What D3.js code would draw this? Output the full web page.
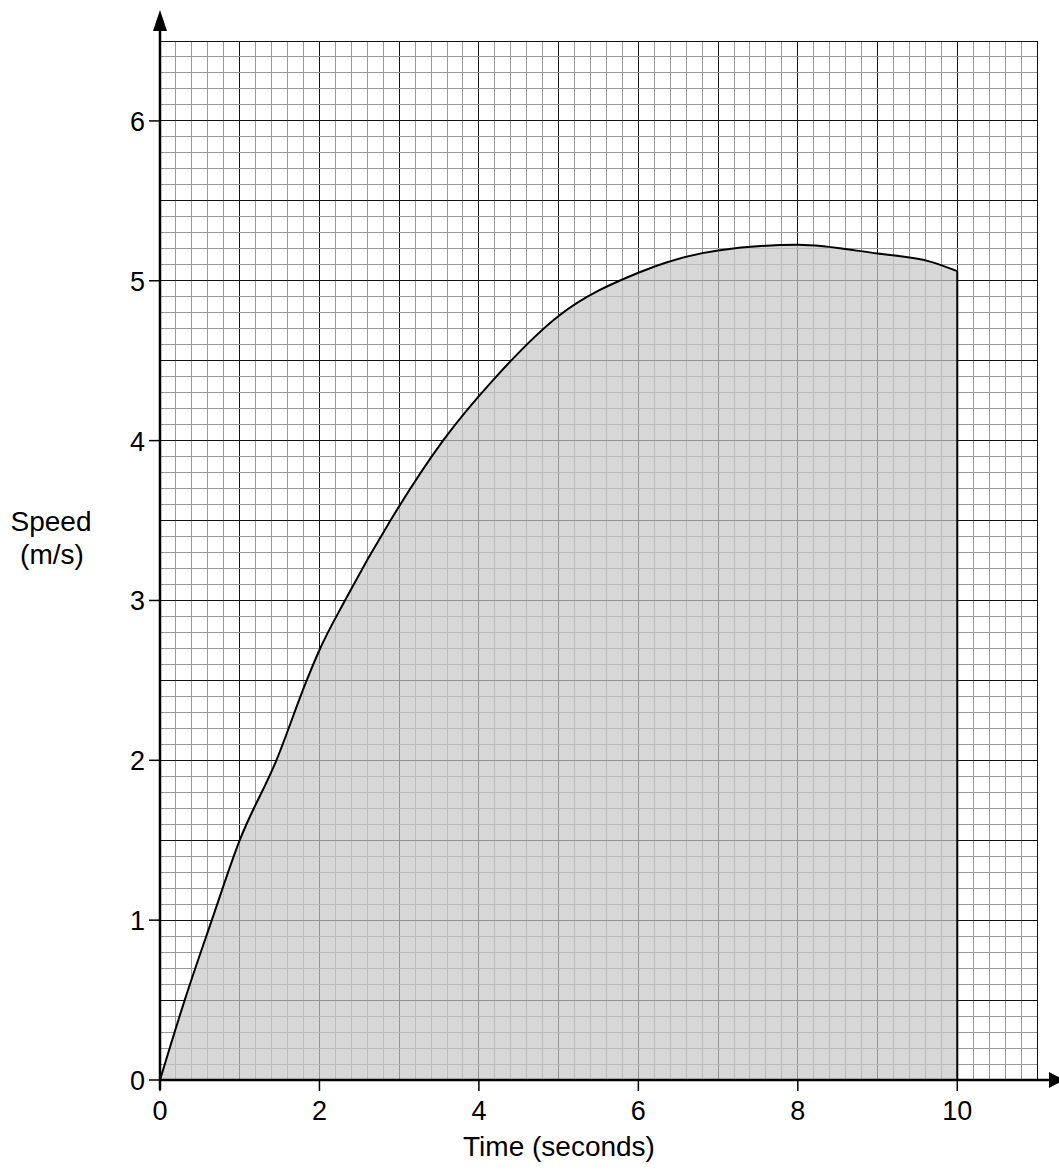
<!DOCTYPE html>
<meta charset="utf-8">
<script src="https://d3js.org/d3.v7.min.js"></script>
<style>
  body { margin: 0; background: #fff; }
  text { font-family: "Liberation Sans", Arial, sans-serif; fill: #000; }
</style>
<div id="chart"></div>
<script>
// speed-time curve
var time  = [0, 0.31, 0.65, 1.0, 1.46, 1.84, 2.0, 2.32, 2.89, 3.55, 4.18, 5.0, 6.0, 7.0, 8.0, 9.0, 9.66, 10];
var speed = [0, 0.5, 1.0, 1.5, 2.0, 2.5, 2.69, 3.0, 3.5, 4.0, 4.38, 4.78, 5.05, 5.19, 5.225, 5.17, 5.12, 5.06];
var xTicks = [0, 2, 4, 6, 8, 10];
var yTicks = [0, 1, 2, 3, 4, 5, 6];

var width = 1059, height = 1171;

var svg = d3.select("#chart").append("svg")
  .attr("width", width)
  .attr("height", height);

// scales: 1 s = ~80px, 1 m/s = ~160px
var x = d3.scaleLinear().domain([0, 11]).range([160, 1037]);
var y = d3.scaleLinear().domain([0, 6.5]).range([1080, 41]);

// graph paper: small squares 0.2 s by 0.1 m/s
var gx = d3.range(0, 55 + 1).map(function(i) { return i / 5; });
var gy = d3.range(0, 65 + 1).map(function(i) { return i / 10; });

var grid = svg.append("g");
grid.selectAll(".vx").data(gx).enter().append("line")
  .attr("x1", function(d) { return x(d); })
  .attr("x2", function(d) { return x(d); })
  .attr("y1", y(0)).attr("y2", y(6.5))
  .attr("stroke", function(d, i) { return i % 5 == 0 ? "#111" : "#999"; })
  .attr("stroke-width", 1)
  .attr("shape-rendering", "crispEdges");
grid.selectAll(".hy").data(gy).enter().append("line")
  .attr("y1", function(d) { return y(d); })
  .attr("y2", function(d) { return y(d); })
  .attr("x1", x(0)).attr("x2", x(11))
  .attr("stroke", function(d, i) { return i % 5 == 0 ? "#111" : "#999"; })
  .attr("stroke-width", 1)
  .attr("shape-rendering", "crispEdges");

var pts = time.map(function(t, i) { return [t, speed[i]]; });

// shaded area under the curve
var area = d3.area()
  .x(function(d) { return x(d[0]); })
  .y0(y(0))
  .y1(function(d) { return y(d[1]); })
  .curve(d3.curveMonotoneX);

svg.append("path")
  .datum(pts)
  .attr("d", area)
  .attr("fill", "rgb(200,200,200)")
  .attr("fill-opacity", 0.72);

// the curve itself + drop at t=10
var line = d3.line()
  .x(function(d) { return x(d[0]); })
  .y(function(d) { return y(d[1]); })
  .curve(d3.curveMonotoneX);

svg.append("path")
  .datum(pts)
  .attr("d", line)
  .attr("fill", "none")
  .attr("stroke", "#000")
  .attr("stroke-width", 2);

svg.append("line")
  .attr("x1", x(10)).attr("x2", x(10))
  .attr("y1", y(speed[speed.length - 1])).attr("y2", y(0))
  .attr("stroke", "#000")
  .attr("stroke-width", 2);

// axes
svg.append("line")
  .attr("x1", x(0)).attr("x2", x(0))
  .attr("y1", y(0) + 10).attr("y2", 22)
  .attr("stroke", "#000").attr("stroke-width", 2.5);
svg.append("path")
  .attr("d", "M" + x(0) + ",10 L" + (x(0) - 7) + ",31 L" + (x(0) + 7) + ",31 Z")
  .attr("fill", "#000");

svg.append("line")
  .attr("x1", x(0)).attr("x2", 1052)
  .attr("y1", y(0)).attr("y2", y(0))
  .attr("stroke", "#000").attr("stroke-width", 2.5);
svg.append("path")
  .attr("d", "M1064," + y(0) + " L1049," + (y(0) - 8) + " L1049," + (y(0) + 8) + " Z")
  .attr("fill", "#000");

// ticks and labels
svg.selectAll(".yt").data(yTicks).enter().append("line")
  .attr("x1", x(0) - 11).attr("x2", x(0))
  .attr("y1", function(d) { return y(d); })
  .attr("y2", function(d) { return y(d); })
  .attr("stroke", "#000").attr("stroke-width", 1.5);
svg.selectAll(".yl").data(yTicks).enter().append("text")
  .attr("x", x(0) - 15)
  .attr("y", function(d) { return y(d) + 10; })
  .attr("text-anchor", "end")
  .attr("font-size", "27px")
  .text(function(d) { return d; });

svg.selectAll(".xt").data(xTicks).enter().append("line")
  .attr("x1", function(d) { return x(d); })
  .attr("x2", function(d) { return x(d); })
  .attr("y1", y(0)).attr("y2", y(0) + 11)
  .attr("stroke", "#000").attr("stroke-width", 1.5);
svg.selectAll(".xl").data(xTicks).enter().append("text")
  .attr("x", function(d) { return x(d); })
  .attr("y", y(0) + 40)
  .attr("text-anchor", "middle")
  .attr("font-size", "27px")
  .text(function(d) { return d; });

// axis titles
svg.append("text")
  .attr("x", 559).attr("y", 1156)
  .attr("text-anchor", "middle")
  .attr("font-size", "28px")
  .text("Time (seconds)");

svg.append("text")
  .attr("x", 51).attr("y", 531)
  .attr("text-anchor", "middle")
  .attr("font-size", "28px")
  .text("Speed");
svg.append("text")
  .attr("x", 52).attr("y", 564)
  .attr("text-anchor", "middle")
  .attr("font-size", "28px")
  .text("(m/s)");
</script>
